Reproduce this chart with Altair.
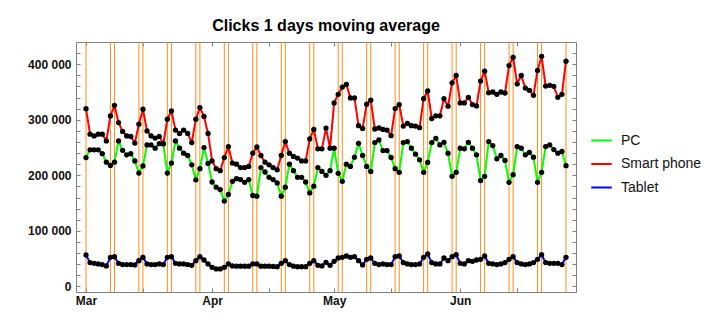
import altair as alt
import pandas as pd

# ---------------- data ----------------
start_date = "2020-03-01"
n_days = 119

series_names = ["PC", "Smart phone", "Tablet"]
series_colors = ["#00ff00", "#ff0000", "#0000ff"]

pc = [232000, 246000, 246000, 246000, 239000, 223700, 217900, 223700, 262000, 245000,
      237000, 239000, 226000, 204000, 217000, 254800, 254800, 248800, 257000, 257000,
      204000, 222000, 262000, 248800, 239800, 235700, 219000, 192000, 212000, 250000,
      221400, 188000, 178600, 174400, 153600, 165500, 189300, 194000, 192300, 187500,
      192300, 163700, 162500, 214000, 206000, 196400, 192300, 186300, 162500, 178600,
      220000, 208400, 196400, 196400, 188000, 168400, 180400, 214000, 207100, 200000,
      208400, 248800, 203600, 189300, 220000, 216000, 232700, 257700, 235700, 216000,
      207100, 258900, 263700, 244600, 244600, 232100, 212000, 205400, 258900, 260700,
      248800, 238000, 228000, 205400, 223200, 258900, 266600, 254800, 259500, 239800,
      198200, 205400, 248800, 247700, 259500, 248800, 237000, 190500, 198200, 260700,
      253600, 229800, 235700, 226800, 187500, 201200, 251800, 248800, 237000, 241100,
      232700, 187500, 205400, 251800, 254800, 246400, 239800, 242900, 217300]

smart_phone = [320000, 274000, 271000, 274000, 274000, 262000, 307000, 326000, 295000, 279000,
               271000, 270000, 258000, 292000, 319000, 280000, 271000, 267000, 270000, 257000,
               301000, 316000, 281500, 275500, 281500, 275500, 259000, 301000, 322000, 306000,
               275500, 226000, 212000, 208400, 232000, 251800, 222000, 220000, 214000, 214000,
               216000, 239800, 251000, 235700, 223700, 219000, 214000, 210000, 235700, 260700,
               239800, 234000, 231000, 226000, 226000, 265500, 282700, 247700, 247700, 285000,
               248800, 330400, 345900, 358900, 363700, 339300, 339300, 289300, 284500, 328000,
               335200, 283400, 285200, 282700, 281500, 271400, 320200, 327400, 288700, 293400,
               289300, 288700, 285700, 338000, 351800, 302300, 307100, 307100, 338000, 324400,
               366600, 379800, 330400, 330400, 340500, 327400, 325000, 369600, 387500, 348800,
               350000, 345900, 350000, 348200, 397600, 412500, 364800, 379800, 357100, 353000,
               344100, 388700, 414300, 360700, 362000, 360200, 340500, 345900, 405400]

tablet = [56600, 42900, 41700, 40500, 39300, 37000, 52400, 53600, 41700, 39300,
          39300, 39300, 38700, 46400, 52400, 40500, 39300, 39300, 40500, 39300,
          52400, 53600, 41700, 40500, 40500, 39300, 38000, 46400, 53600, 47600,
          40500, 34500, 31500, 31500, 34500, 40500, 37000, 36500, 36500, 36500,
          36500, 40500, 40500, 36500, 36500, 36500, 36000, 35500, 41700, 46400,
          39300, 36500, 35500, 35500, 35500, 41700, 46400, 38000, 37000, 43500,
          38000, 45200, 51200, 52400, 54800, 52400, 53600, 46400, 38700, 48800,
          51200, 41700, 39300, 40500, 39300, 39300, 53600, 54800, 42900, 40500,
          39300, 39300, 40500, 52400, 58400, 42900, 40500, 40500, 51200, 46400,
          53600, 57100, 41700, 40500, 46400, 45200, 47600, 48800, 54800, 41700,
          40500, 39300, 40500, 42900, 48800, 53600, 42900, 40500, 39300, 40500,
          42900, 48800, 57100, 42900, 41700, 41700, 41700, 39300, 52400]

y_tick_values = list(range(0, 420001, 20000))

dates = [d.strftime("%Y-%m-%d") for d in pd.date_range(start_date, periods=n_days, freq="D")]
rows = []
for name, vals in zip(series_names, [pc, smart_phone, tablet]):
    for d, v in zip(dates, vals):
        rows.append({"date": d, "series": name, "value": v})
df = pd.DataFrame(rows)
days = pd.DataFrame({"date": dates})

# ---------------- styling ----------------
FONT = "Liberation Sans"
FRAME = "#7f7f7f"
TXT = "#111111"

x_scale = alt.Scale(
    type="utc",
    domain=[alt.DateTime(year=2020, month=2, date=27, hours=13, utc=True),
            alt.DateTime(year=2020, month=6, date=29, hours=11, utc=True)],
)
y_scale = alt.Scale(domain=[-10000, 440000], nice=False, zero=False)

x_ticks = [alt.DateTime(year=2020, month=m, date=dd, utc=True) for m in (3, 4, 5, 6) for dd in (1, 15)]

x_axis_bottom = alt.Axis(
    values=x_ticks, title=None, grid=False, domain=False,
    labelExpr="utcdate(datum.value) == 1 ? utcFormat(datum.value, '%b') : ''",
    tickSize=4, offset=-4, tickColor=FRAME,
    labelFont=FONT, labelFontSize=12, labelFontWeight="bold", labelColor=TXT,
    labelPadding=3,
)
x_axis_top = alt.Axis(
    orient="top", values=x_ticks, title=None, grid=False, domain=False,
    labels=False, tickSize=4, offset=-4, tickColor=FRAME,
)
y_axis_left = alt.Axis(
    values=y_tick_values, title=None, grid=False, domain=False,
    labelExpr="datum.value % 100000 == 0 ? replace(format(datum.value, ',d'), ',', ' ') : ''",
    tickSize=4, offset=-4, tickColor=FRAME,
    labelFont=FONT, labelFontSize=12, labelFontWeight="bold", labelColor=TXT,
    labelPadding=5,
)
y_axis_right = alt.Axis(
    orient="right", values=y_tick_values, title=None, grid=False, domain=False,
    labels=False, tickSize=4, offset=-4, tickColor=FRAME,
)

rules = alt.Chart(days).transform_filter(
    "utcday(datum.date) == 0 || utcday(datum.date) == 6"
).mark_rule(color="#ff8c1a", strokeWidth=1).encode(
    x=alt.X("date:T", scale=x_scale, axis=None)
)

lines = alt.Chart(df).mark_line(strokeWidth=2).encode(
    x=alt.X("date:T", scale=x_scale, axis=x_axis_bottom),
    y=alt.Y("value:Q", scale=y_scale, axis=y_axis_left),
    color=alt.Color(
        "series:N",
        scale=alt.Scale(domain=series_names, range=series_colors),
        legend=alt.Legend(
            title=None, orient="none", legendX=514, legendY=87,
            symbolType="stroke", symbolSize=420, symbolStrokeWidth=2,
            labelFont=FONT, labelFontSize=14, labelColor=TXT,
            labelOffset=8, rowPadding=4.5, padding=0,
        ),
    ),
)

points = alt.Chart(df).mark_circle(size=28, color="black", opacity=1).encode(
    x=alt.X("date:T", scale=x_scale, axis=x_axis_top),
    y=alt.Y("value:Q", scale=y_scale, axis=y_axis_right),
)

chart = alt.layer(rules, lines, points).resolve_axis(
    x="independent", y="independent"
).properties(
    width=500,
    height=250,
    title=alt.TitleParams(
        "Clicks 1 days moving average", font=FONT, fontSize=16, fontWeight="bold",
        color="black", anchor="middle", offset=8,
    ),
    autosize=alt.AutoSizeParams(type="none"),
    padding={"left": 76, "top": 42, "right": 134, "bottom": 40},
    background="white",
).configure_view(
    stroke=FRAME, strokeWidth=1
)

chart.save("out.html", embed_options={"renderer": "svg", "actions": False})
